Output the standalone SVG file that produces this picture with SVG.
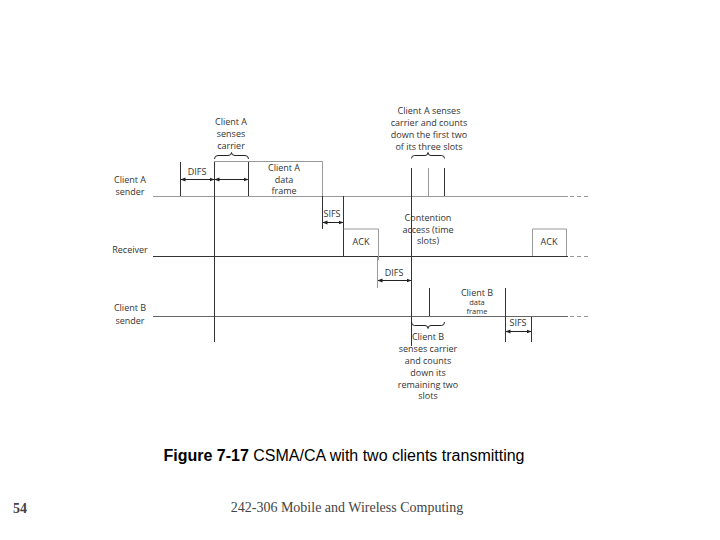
<svg xmlns="http://www.w3.org/2000/svg" width="720" height="540" viewBox="0 0 720 540">
<style>
.t{font-family:"Open Sans","DejaVu Sans",sans-serif;font-size:9px;fill:#333;text-anchor:middle}
.s{font-size:7.5px}
.ln{stroke:#333;stroke-width:1;fill:none}
.lg{stroke:#999;stroke-width:1;fill:none}
.ar{stroke:#222;stroke-width:1;fill:none;marker-start:url(#ah);marker-end:url(#ah)}
.br{stroke:#222;stroke-width:1;fill:none}
.dash{stroke:#999;stroke-width:1;stroke-dasharray:4,3;fill:none}
</style>
<defs>
<marker id="ah" viewBox="0 0 10 10" refX="9" refY="5" markerWidth="5" markerHeight="5" orient="auto-start-reverse" markerUnits="userSpaceOnUse">
<path d="M0,1 L10,5 L0,9 z" fill="#222"/>
</marker>
</defs>
<rect width="720" height="540" fill="#fff"/>

<g id="labels">
<text class="t" x="130" y="183">Client A</text>
<text class="t" x="130" y="195">sender</text>
<text class="t" x="130" y="253">Receiver</text>
<text class="t" x="130" y="311">Client B</text>
<text class="t" x="130" y="324">sender</text>
</g>

<g id="timelines">
<line class="lg" x1="153" y1="196.5" x2="568" y2="196.5"/>
<line class="dash" x1="570" y1="196.5" x2="590" y2="196.5"/>
<line x1="153" y1="256.5" x2="568" y2="256.5" stroke="#333" stroke-width="1.2"/>
<line class="dash" x1="570" y1="256.5" x2="590" y2="256.5"/>
<line x1="153" y1="316.5" x2="568" y2="316.5" stroke="#666" stroke-width="1"/>
<line class="dash" x1="570" y1="316.5" x2="590" y2="316.5"/>
</g>

<g id="client-a-frame">
<line class="ln" x1="180.5" y1="162" x2="180.5" y2="196"/>
<line class="ln" x1="214.5" y1="161.5" x2="214.5" y2="342"/>
<line class="ln" x1="248.5" y1="161.5" x2="248.5" y2="196"/>
<polyline class="lg" points="214.5,161.5 322.5,161.5 322.5,196"/>
<line class="ln" x1="322.5" y1="196" x2="322.5" y2="229"/>
<text class="t" x="197" y="175">DIFS</text>
<text class="t" x="284" y="171">Client A</text>
<text class="t" x="284" y="183">data</text>
<text class="t" x="284" y="194">frame</text>
<path class="br" d="M214.5,159 Q214.5,155.5 218,155.5 L228,155.5 Q231.5,155.5 231.5,152.5 Q231.5,155.5 235,155.5 L245,155.5 Q248.5,155.5 248.5,159"/>
<text class="t" x="231" y="125">Client A</text>
<text class="t" x="231" y="137">senses</text>
<text class="t" x="231" y="149">carrier</text>
</g>

<g id="ack-1">
<polyline class="ln" points="343.5,196 343.5,256"/>
<polyline class="lg" points="343.5,229 378.5,229 378.5,260"/>
<text class="t" x="361" y="245">ACK</text>
<text class="t" x="332" y="217">SIFS</text>
</g>

<g id="slots">
<line class="ln" x1="411.5" y1="168" x2="411.5" y2="346"/>
<line x1="428.5" y1="168" x2="428.5" y2="196" stroke="#999" stroke-width="1"/>
<line class="ln" x1="444.5" y1="168" x2="444.5" y2="196"/>
<path class="br" d="M411.5,158.5 Q411.5,155.5 414.5,155.5 L425,155.5 Q428,155.5 428,152.5 Q428,155.5 431,155.5 L441.5,155.5 Q444.5,155.5 444.5,158.5"/>
<text class="t" x="429" y="114">Client A senses</text>
<text class="t" x="429" y="126">carrier and counts</text>
<text class="t" x="429" y="138">down the first two</text>
<text class="t" x="429" y="150">of its three slots</text>
<text class="t" x="428" y="221">Contention</text>
<text class="t" x="428" y="233">access (time</text>
<text class="t" x="428" y="244">slots)</text>
</g>

<g id="ack-2">
<polyline class="lg" points="532.5,256 532.5,229 566.5,229 566.5,256"/>
<text class="t" x="549" y="245">ACK</text>
</g>

<g id="client-b-frame">
<line x1="377.5" y1="257" x2="377.5" y2="288" stroke="#999" stroke-width="1"/>
<text class="t" x="394" y="276">DIFS</text>
<line class="ln" x1="429.5" y1="288" x2="429.5" y2="316"/>
<line class="ln" x1="505.5" y1="288" x2="505.5" y2="342"/>
<line class="ln" x1="531.5" y1="317" x2="531.5" y2="342"/>
<text class="t" x="477" y="296">Client B</text>
<text class="t s" x="477" y="305">data</text>
<text class="t s" x="477" y="314">frame</text>
<text class="t" x="518" y="326">SIFS</text>
<path class="br" d="M411.5,322 Q411.5,325.5 414.5,325.5 L425,325.5 Q428,325.5 428,328.5 Q428,325.5 431,325.5 L441.5,325.5 Q444.5,325.5 444.5,322"/>
<text class="t" x="428" y="340">Client B</text>
<text class="t" x="428" y="352">senses carrier</text>
<text class="t" x="428" y="364">and counts</text>
<text class="t" x="428" y="376">down its</text>
<text class="t" x="428" y="388">remaining two</text>
<text class="t" x="428" y="399">slots</text>
</g>

<g id="connectors">
<line class="ar" x1="181" y1="179.5" x2="214" y2="179.5"/>
<line class="ar" x1="215" y1="179.5" x2="248" y2="179.5"/>
<line class="ar" x1="323" y1="222.5" x2="343" y2="222.5"/>
<line class="ar" x1="378" y1="280.5" x2="411" y2="280.5"/>
<line class="ar" x1="506" y1="331.5" x2="531" y2="331.5"/>
</g>

<g id="caption">
<text x="344" y="461" font-family="Liberation Sans, Arial, sans-serif" font-size="16" fill="#000" text-anchor="middle"><tspan font-weight="bold">Figure 7-17</tspan> CSMA/CA with two clients transmitting</text>
<text x="20" y="513" font-family="Liberation Serif, serif" font-size="14" fill="#444" text-anchor="middle" font-weight="bold">54</text>
<text x="347" y="512" font-family="Liberation Serif, serif" font-size="14" fill="#444" text-anchor="middle">242-306 Mobile and Wireless Computing</text>
</g>
</svg>
